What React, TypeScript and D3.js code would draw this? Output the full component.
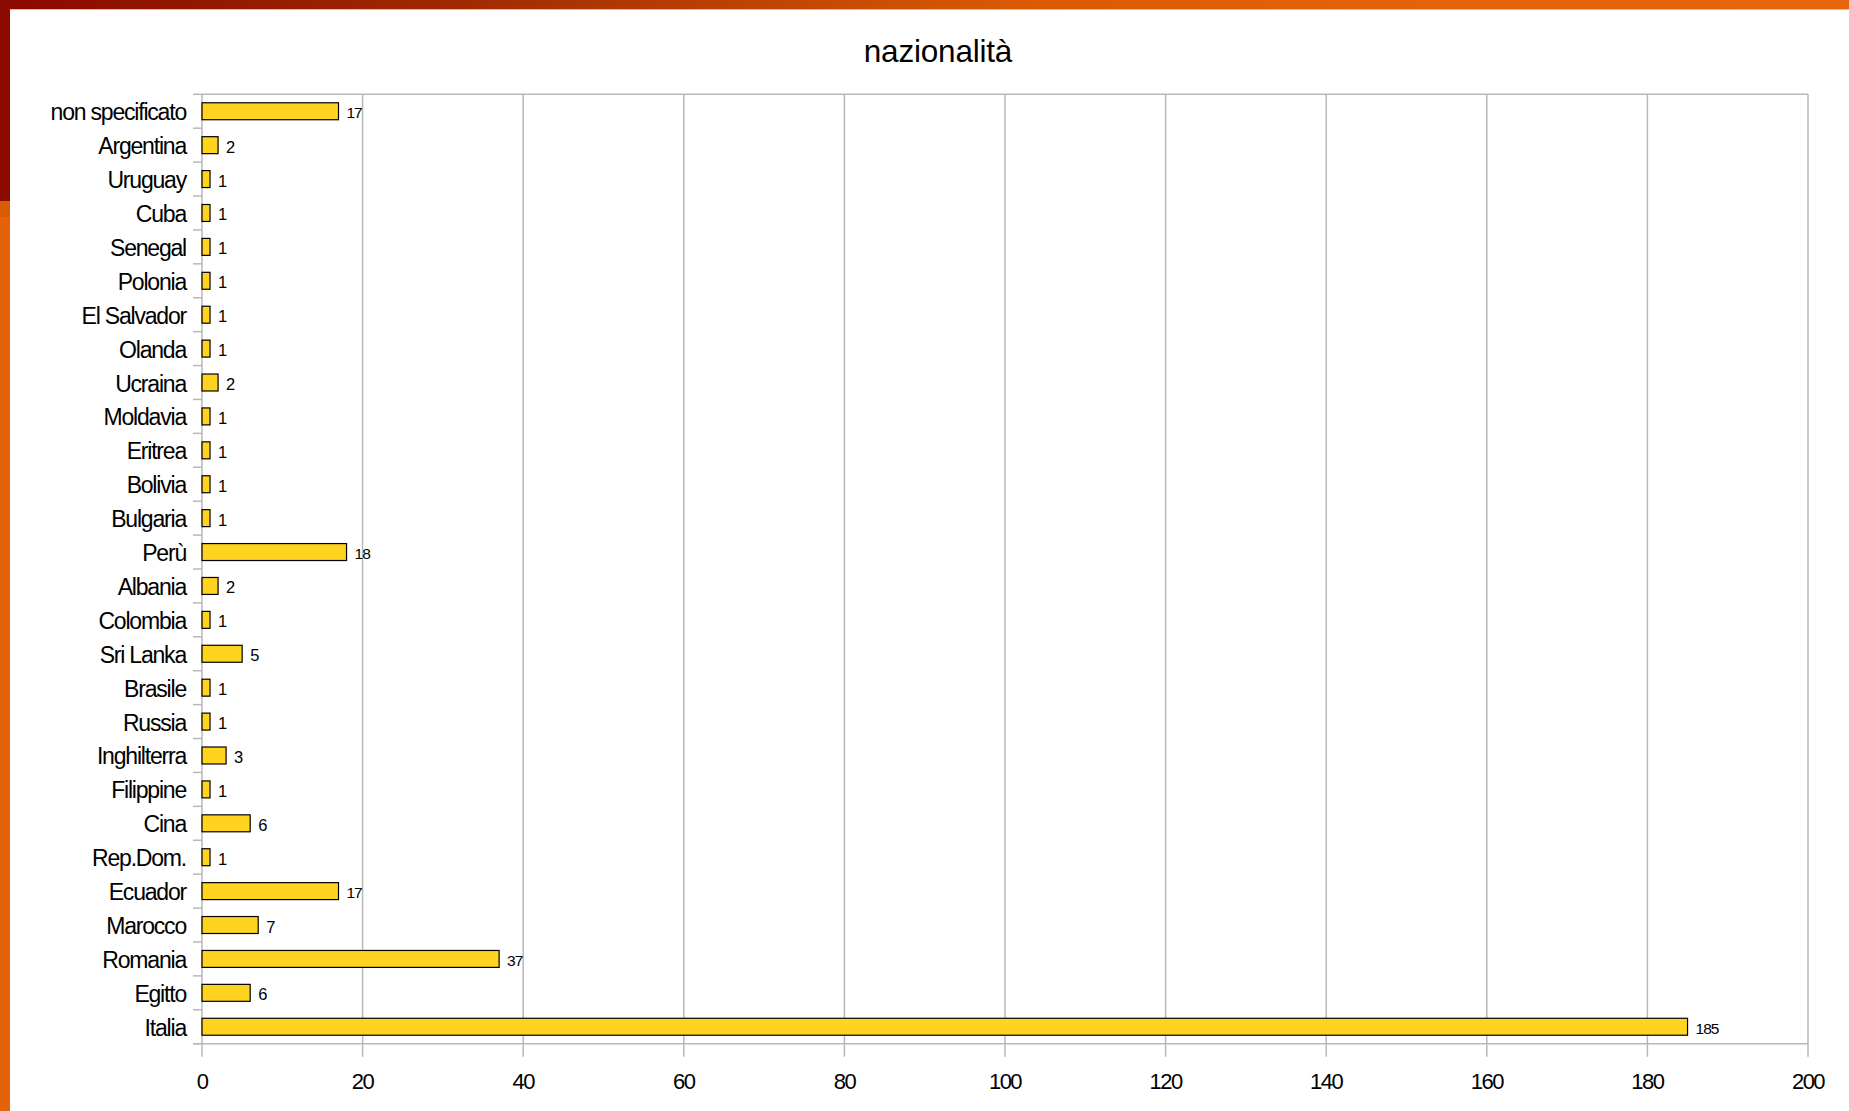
import React from "react";
import * as d3 from "d3";

const categories = [
  "non specificato", "Argentina", "Uruguay", "Cuba", "Senegal", "Polonia",
  "El Salvador", "Olanda", "Ucraina", "Moldavia", "Eritrea", "Bolivia",
  "Bulgaria", "Perù", "Albania", "Colombia", "Sri Lanka", "Brasile", "Russia",
  "Inghilterra", "Filippine", "Cina", "Rep.Dom.", "Ecuador", "Marocco",
  "Romania", "Egitto", "Italia",
];
const values = [
  17, 2, 1, 1, 1, 1, 1, 1, 2, 1, 1, 1, 1, 18, 2, 1, 5, 1, 1, 3, 1, 6, 1, 17, 7,
  37, 6, 185,
];
const xTicks = [0, 20, 40, 60, 80, 100, 120, 140, 160, 180, 200];
const title = "nazionalità";

const W = 1849;
const H = 1111;
const left = 202;
const right = 1808;
const top = 94.3;
const bottom = 1043.7;
const font = "'Liberation Sans', Arial, sans-serif";
const grid = "#b8b8b8";

export default function App() {
  const x = d3.scaleLinear().domain([0, 200]).range([left, right]);
  const y = d3
    .scaleBand<string>()
    .domain(categories)
    .range([top, bottom])
    .paddingInner(0.5)
    .paddingOuter(0.25);
  const yb = d3.scaleLinear().domain([0, categories.length]).range([top, bottom]);
  const boundaries = d3.range(categories.length + 1);

  return (
    <div style={{ position: "absolute", left: 0, top: 0, width: W, height: H }}>
      <svg width={W} height={H} style={{ display: "block" }}>
        <defs>
          <linearGradient id="topbar" x1="0" x2="1" y1="0" y2="0">
            <stop offset="0%" stopColor="#8a0900" />
            <stop offset="25%" stopColor="#a02a00" />
            <stop offset="55%" stopColor="#d95a03" />
            <stop offset="75%" stopColor="#e3620a" />
            <stop offset="100%" stopColor="#e6660c" />
          </linearGradient>
        </defs>
        <rect x={0} y={0} width={W} height={H} fill="#ffffff" />
        {/* decorative frame */}
        <rect x={0} y={0} width={W} height={9} fill="url(#topbar)" />
        <rect x={10} y={9} width={W - 10} height={1} fill="#f4b28a" />
        <rect x={0} y={0} width={10} height={201} fill="#8b0b01" />
        <rect x={0} y={201} width={10} height={16} fill="#d85c04" />
        <rect x={0} y={217} width={10} height={H - 217} fill="#e5620a" />

        {/* title */}
        <text
          x={938}
          y={62}
          textAnchor="middle"
          fontFamily={font}
          fontSize={31.5}
          letterSpacing={-0.2}
          fill="#000"
        >
          {title}
        </text>

        {/* vertical gridlines + ticks */}
        {xTicks.map((t) => (
          <line
            key={"g" + t}
            x1={x(t)}
            x2={x(t)}
            y1={top}
            y2={bottom + 13}
            stroke={grid}
            strokeWidth={1.5}
          />
        ))}
        {/* frame lines */}
        <line x1={left} x2={right} y1={top} y2={top} stroke={grid} strokeWidth={1.5} />
        <line x1={left - 9} x2={right} y1={bottom} y2={bottom} stroke={grid} strokeWidth={1.5} />
        {/* y ticks */}
        {boundaries.map((i) => (
          <line
            key={"yt" + i}
            x1={left - 9}
            x2={left}
            y1={yb(i)}
            y2={yb(i)}
            stroke={grid}
            strokeWidth={1.5}
          />
        ))}

        {/* bars */}
        {categories.map((c, i) => (
          <rect
            key={"b" + c}
            x={x(0)}
            y={y(c)!}
            width={x(values[i]) - x(0)}
            height={y.bandwidth()}
            fill="#ffd320"
            stroke="#000"
            strokeWidth={1.2}
          />
        ))}

        {/* value labels */}
        {categories.map((c, i) => (
          <text
            key={"v" + c}
            x={x(values[i]) + 8}
            y={y(c)! + y.bandwidth() / 2 + 1.5}
            dominantBaseline="central"
            fontFamily={font}
            fontSize={values[i] >= 10 ? 15.5 : 16.5}
            letterSpacing={values[i] >= 10 ? -1 : 0}
            fill="#000"
          >
            {values[i]}
          </text>
        ))}

        {/* category labels */}
        {categories.map((c) => (
          <text
            key={"c" + c}
            x={186}
            y={y(c)! + y.bandwidth() / 2 + 1}
            textAnchor="end"
            dominantBaseline="central"
            fontFamily={font}
            fontSize={23}
            letterSpacing={-1.2}
            fill="#000"
          >
            {c}
          </text>
        ))}

        {/* x tick labels */}
        {xTicks.map((t) => (
          <text
            key={"xl" + t}
            x={x(t)}
            y={1089}
            textAnchor="middle"
            fontFamily={font}
            fontSize={22}
            letterSpacing={-1.5}
            fill="#000"
          >
            {t}
          </text>
        ))}
      </svg>
    </div>
  );
}
